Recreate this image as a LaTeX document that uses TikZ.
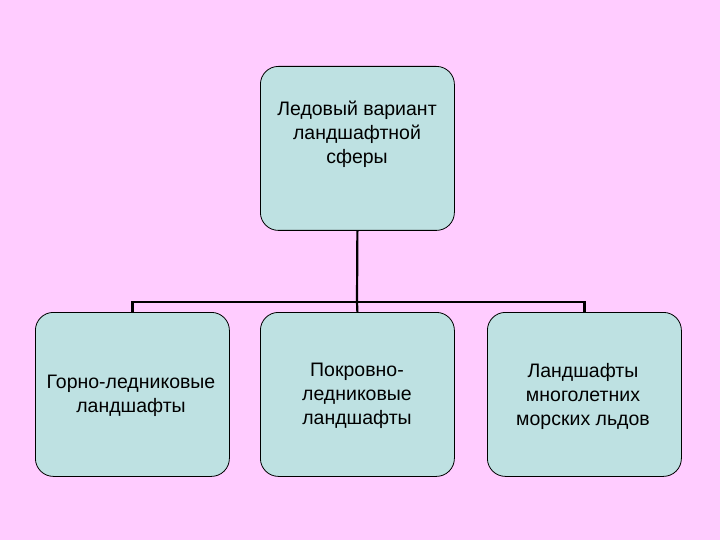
\documentclass[tikz,border=0pt]{standalone}
\usepackage{fontspec}
\setmainfont{Liberation Sans}
\begin{document}
\begin{tikzpicture}[x=1pt,y=-1pt,
  box/.style={draw=black,line width=0.8pt,fill=boxc,rounded corners=18pt,minimum width=194pt,minimum height=164pt,anchor=north west},
  lbl/.style={align=center,font=\fontsize{19.5}{24}\selectfont},
  conn/.style={line width=2.2pt}]
\definecolor{bg}{RGB}{255,204,255}
\definecolor{boxc}{RGB}{190,225,226}
\fill[bg] (0,0) rectangle (720,540);
\useasboundingbox (0,0) rectangle (720,540);
\node[box] (top) at (260,66) {};
\node[box] (b1) at (35,312) {};
\node[box] (b2) at (260,312) {};
\node[box] (b3) at (487,312) {};
\node[lbl] (t0) at (357,134) {Ледовый вариант\\ландшафтной\\сферы};
\node[lbl] (l1) at (131,396) {Горно-ледниковые\\ландшафты};
\node[lbl] (l2) at (357,396) {Покровно-\\ледниковые\\ландшафты};
\node[lbl] (l3) at (583,396) {Ландшафты\\многолетних\\морских льдов};
\coordinate (j) at (357,302);
\draw[conn] (top.south) -- (j);
\draw[conn] (b1.north) -- (b1.north |- j) -- (b3.north |- j) -- (b3.north);
\draw[conn] (j) -- (b2.north);
\end{tikzpicture}
\end{document}
